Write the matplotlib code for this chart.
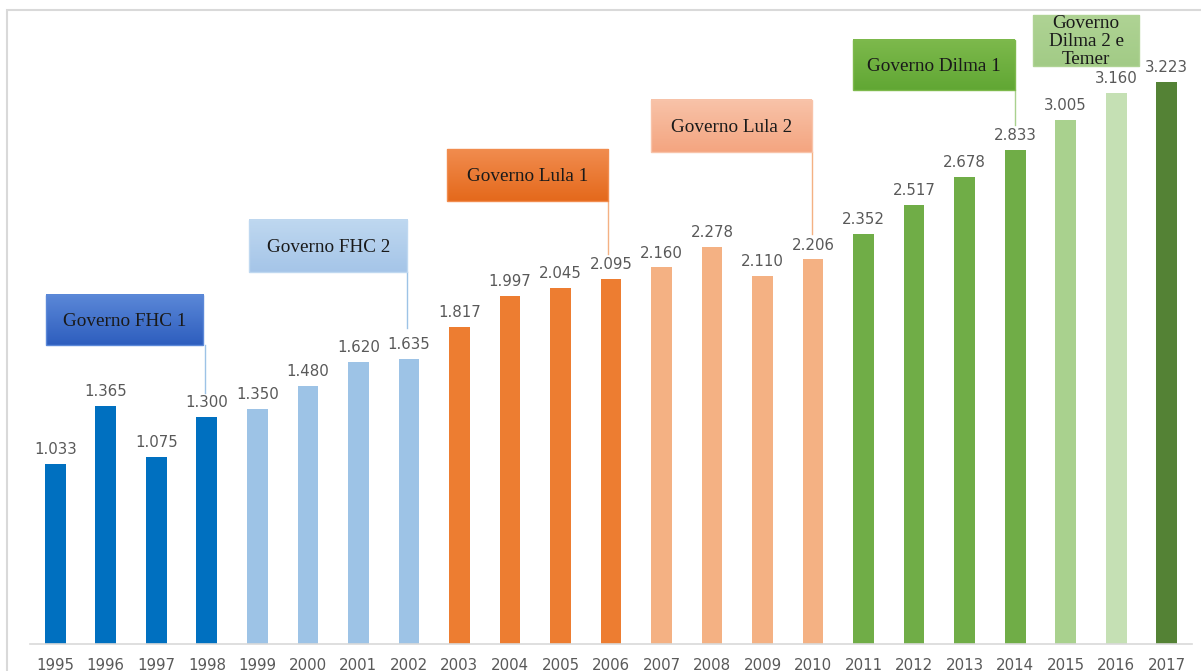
import numpy as np
import matplotlib.pyplot as plt
from matplotlib.colors import LinearSegmentedColormap
from matplotlib.patches import Rectangle

# -----------------------------
# Data
# -----------------------------
years = [str(y) for y in range(1995, 2018)]
values = [1.033, 1.365, 1.075, 1.300, 1.350, 1.480, 1.620, 1.635,
          1.817, 1.997, 2.045, 2.095, 2.160, 2.278, 2.110, 2.206,
          2.352, 2.517, 2.678, 2.833, 3.005, 3.160, 3.223]
value_labels = [f"{v:.3f}" for v in values]

gov_names = ["Governo FHC 1", "Governo FHC 2", "Governo Lula 1",
             "Governo Lula 2", "Governo Dilma 1", "Governo\nDilma 2 e\nTemer"]

# -----------------------------
# Styles
# -----------------------------
bar_colors = (["#0070C0"] * 4 + ["#9DC3E6"] * 4 + ["#ED7D31"] * 4 +
              ["#F4B183"] * 4 + ["#70AD47"] * 4 + ["#A9D18E", "#C5E0B4", "#548235"])

# box: (x0, x1, y0, y1), gradient top/bottom, leader line (x, y_end) or None
gov_boxes = [
    ((-0.18, 2.93, 1.715, 2.002), ("#5B88D8", "#2E5EBE"), (2.97, 1.44), "#9DC3E6"),
    ((3.84, 6.97, 2.134, 2.433), ("#BFD8F0", "#A5C5E8"), (6.97, 1.81), "#9DC3E6"),
    ((7.75, 10.94, 2.543, 2.838), ("#F18C4E", "#E4691C"), (10.94, 2.24), "#F4B183"),
    ((11.80, 14.97, 2.821, 3.121), ("#F8C3A9", "#F4A580"), (14.97, 2.35), "#F4B183"),
    ((15.79, 18.99, 3.178, 3.465), ("#7DB94C", "#61A734"), (18.99, 2.98), "#A9D18E"),
    ((19.35, 21.46, 3.318, 3.609), ("#AFD394", "#A2CB86"), None, None),
]

W, H = 1201, 671
fig = plt.figure(figsize=(W / 100, H / 100), dpi=100)

# thin grey frame of the chart area
fig.patches.append(Rectangle((7 / W, -0.1), 1.2, 1 - 10 / H + 0.1, transform=fig.transFigure,
                             fill=False, edgecolor="#D9D9D9", lw=1.5))

ax = fig.add_axes([30 / W, 27 / H, 1162 / W, 634 / H])
x = np.arange(len(years))
ax.bar(x, values, width=0.41, color=bar_colors, zorder=2)

for xi, lab, v in zip(x, value_labels, values):
    ax.annotate(lab, (xi, v), xytext=(0, 5), textcoords="offset points",
                ha="center", va="bottom", fontsize=10.8, color="#595959")

# government boxes with leader lines
for (bx, (ctop, cbot), line, lcol), name in zip(gov_boxes, gov_names):
    x0, x1, y0, y1 = bx
    cmap = LinearSegmentedColormap.from_list("g", [ctop, cbot])
    grad = np.linspace(0, 1, 64).reshape(-1, 1)
    ax.imshow(grad, extent=[x0, x1, y0, y1], cmap=cmap, aspect="auto",
              origin="upper", zorder=3)
    ax.add_patch(Rectangle((x0, y0), x1 - x0, y1 - y0, fill=False,
                           edgecolor=ctop, lw=1, zorder=4))
    if line is not None:
        ax.plot([line[0], line[0]], [y0, line[1]], color=lcol, lw=1, zorder=1)
    ax.text((x0 + x1) / 2, (y0 + y1) / 2 - 0.008, name, ha="center", va="center",
            fontsize=13.8, family="Liberation Serif", color="#1A1A1A",
            linespacing=1.08, zorder=5)

ax.set_xlim(-0.5, 22.5)
ax.set_ylim(0, 3.637)
ax.set_xticks(x)
ax.set_xticklabels(years, fontsize=10.8, color="#595959")
ax.tick_params(axis="x", length=0, pad=10)
ax.set_yticks([])
for s in ["top", "right", "left"]:
    ax.spines[s].set_visible(False)
ax.spines["bottom"].set_color("#D9D9D9")
ax.spines["bottom"].set_linewidth(1.2)

fig.savefig("out.png", dpi=100)
